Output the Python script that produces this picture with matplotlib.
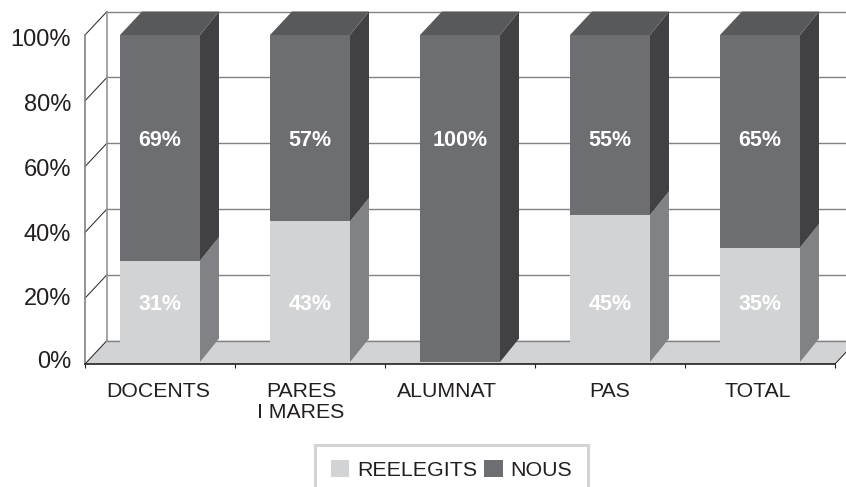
import matplotlib.pyplot as plt
from matplotlib.patches import Polygon, Patch
from matplotlib.transforms import ScaledTranslation

plt.rcParams['font.family'] = ['Liberation Sans', 'DejaVu Sans']

categories = ["DOCENTS", "PARES\nI MARES", "ALUMNAT", "PAS", "TOTAL"]
reelegits = [31, 43, 0, 45, 35]
nous = [69, 57, 100, 55, 65]
y_ticks = [0, 20, 40, 60, 80, 100]
label_shift_px = [-2, -9, -13, 0, -2]
tick_shift_px = [4, 2, 0, -1, -2, -3]

W, H = 846, 487
fig = plt.figure(figsize=(W / 100, H / 100), dpi=100)
ax = fig.add_axes([85 / W, 1 - 364 / H, 750 / W, 329 / H])
ax.set_xlim(-0.5, 4.5)
ax.set_ylim(0, 100)

# oblique depth, in data units
px_x = 1 / 150
px_y = 100 / 329
back_dx = 22 * px_x
back_dy = 23.5 * px_y
bar_w = 80 * px_x
right_dx = 19 * px_x


def poly(pts, color, z):
    ax.add_patch(Polygon(pts, closed=True, fc=color, ec='none', zorder=z, clip_on=False))


x0, x1 = -0.5, 4.5
# floor
poly([(x0, 0), (x1, 0), (x1 + back_dx, back_dy), (x0 + back_dx, back_dy)], '#d1d3d4', 1)

# walls
for t in y_ticks:
    ax.plot([x0 + back_dx, x1 + back_dx], [t + back_dy, t + back_dy], color='#808285',
            lw=1.0, zorder=2, clip_on=False)
    ax.plot([x0, x0 + back_dx], [t, t + back_dy], color='#231f20', lw=0.7, zorder=2, clip_on=False)
ax.plot([x0 + back_dx, x0 + back_dx], [back_dy, 100 + back_dy], color='#939598', lw=1.2,
        zorder=2, clip_on=False)
ax.plot([x1, x1 + back_dx], [0, back_dy], color='#231f20', lw=0.7, zorder=2, clip_on=False)

# bars
for i in range(len(categories)):
    l = i - bar_w / 2
    r = i + bar_w / 2
    b = 0.6
    m = b + reelegits[i] * (100 - b) / 100
    t = 100
    if reelegits[i] > 0:
        poly([(l, b), (r, b), (r, m), (l, m)], '#d1d3d4', 4)
        poly([(r, b), (r + right_dx, b + back_dy), (r + right_dx, m + back_dy), (r, m)], '#808285', 3)
    poly([(l, m), (r, m), (r, t), (l, t)], '#6d6e71', 4)
    poly([(r, m), (r + right_dx, m + back_dy), (r + right_dx, t + back_dy), (r, t)], '#414042', 3)
    poly([(l, t), (r, t), (r + right_dx, t + back_dy), (l + back_dx, t + back_dy)], '#58595b', 3)

    if reelegits[i] > 0:
        ax.text(i, 18, f"{reelegits[i]}%", color='white', fontsize=15.5, fontweight='bold',
                ha='center', va='center', zorder=5)
    ax.text(i, 68, f"{nous[i]}%", color='white', fontsize=15.5, fontweight='bold',
            ha='center', va='center', zorder=5)

for s in ['top', 'right']:
    ax.spines[s].set_visible(False)
ax.spines['left'].set_color('#808285')
ax.spines['left'].set_linewidth(1.2)
ax.spines['bottom'].set_color('#231f20')
ax.spines['bottom'].set_linewidth(1.2)
ax.spines['bottom'].set_zorder(6)

ax.set_yticks(y_ticks)
ax.set_yticklabels([f"{t}%" for t in y_ticks], fontsize=17, color='#231f20')
ax.tick_params(axis='y', length=0, pad=10)
for lab, dy in zip(ax.get_yticklabels(), tick_shift_px):
    lab.set_transform(lab.get_transform() + ScaledTranslation(0, dy / 100, fig.dpi_scale_trans))

ax.set_xticks(range(len(categories)))
ax.set_xticklabels(categories, fontsize=15.3, color='#231f20', linespacing=1.12)
ax.set_xticks([i - 0.5 for i in range(6)], minor=True)
ax.tick_params(axis='x', which='major', length=0, pad=13)
ax.tick_params(axis='x', which='minor', length=3, width=0.8, color='#231f20')
for lab, dx in zip(ax.get_xticklabels(), label_shift_px):
    lab.set_transform(lab.get_transform() + ScaledTranslation(dx / 100, 0, fig.dpi_scale_trans))

handles = [Patch(fc='#d1d3d4', ec='none', label='REELEGITS'), Patch(fc='#6d6e71', ec='none', label='NOUS')]
leg = fig.legend(handles=handles, ncol=2, loc='center', bbox_to_anchor=(451.5 / W, 1 - 470 / H),
                 fontsize=15.4, frameon=True, fancybox=False, edgecolor='#c8c9cb',
                 handlelength=0.85, handleheight=0.85, handletextpad=0.38, columnspacing=0.35,
                 borderpad=0.72, borderaxespad=0, labelcolor='#231f20')
leg.get_frame().set_linewidth(2.2)

plt.savefig("out.png", dpi=100)
plt.close()
